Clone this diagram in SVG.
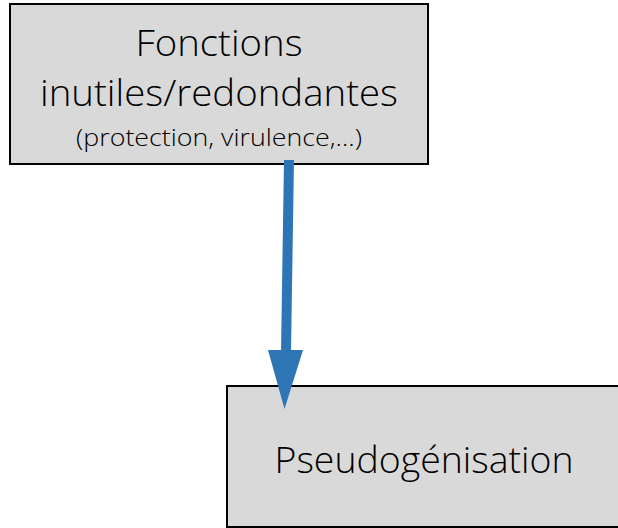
<svg xmlns="http://www.w3.org/2000/svg" width="618" height="528" viewBox="0 0 618 528">
  <style>
    .box { fill: #D9D9D9; stroke: #000; stroke-width: 2; }
    .t { font-family: "Open Sans", "Liberation Sans", sans-serif; font-weight: 300; fill: #000; text-anchor: middle; }
    .big { font-size: 37px; }
    .small { font-size: 23px; }
    .link { stroke: #2E75B6; stroke-width: 10; fill: none; }
    .head { fill: #2E75B6; }
  </style>
  <rect width="618" height="528" fill="#fff"/>
  <g id="node-fonctions">
    <rect class="box" x="10" y="4" width="418" height="160"/>
    <text class="t big" x="219" y="56" textLength="167" lengthAdjust="spacingAndGlyphs">Fonctions</text>
    <text class="t big" x="219" y="106" textLength="358" lengthAdjust="spacingAndGlyphs">inutiles/redondantes</text>
    <text class="t small" x="219" y="146" textLength="286" lengthAdjust="spacingAndGlyphs">(protection, virulence,…)</text>
  </g>
  <g id="node-pseudo">
    <rect class="box" x="227" y="386" width="400" height="141"/>
    <text class="t big" x="424" y="473" textLength="299" lengthAdjust="spacingAndGlyphs">Pseudogénisation</text>
  </g>
  <g id="connectors">
    <line class="link" x1="289" y1="160" x2="286" y2="352"/>
    <polygon class="head" points="268,350 303,350 284.5,409"/>
  </g>
</svg>
